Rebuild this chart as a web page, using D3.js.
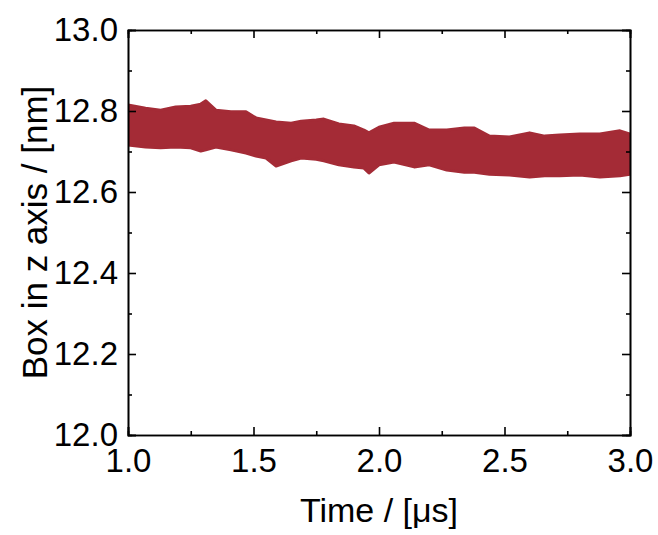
<!DOCTYPE html>
<html>
<head>
<meta charset="utf-8">
<script src="https://cdn.jsdelivr.net/npm/d3@7"></script>
<style>
body { margin: 0; background: #fff; }
text { font-family: Arial, "Liberation Sans", sans-serif; fill: #000; }
</style>
</head>
<body>
<script>
// band envelope (time in µs, box length in nm)
var time  = [1.00, 1.07, 1.13, 1.19, 1.25, 1.29, 1.31, 1.35, 1.41, 1.47, 1.51, 1.55, 1.59, 1.65, 1.69, 1.75, 1.78, 1.84, 1.90, 1.94, 1.96, 2.00, 2.06, 2.14, 2.20, 2.27, 2.34, 2.38, 2.44, 2.52, 2.60, 2.66, 2.72, 2.80, 2.88, 2.96, 3.00];
var upper = [12.815, 12.807, 12.802, 12.810, 12.812, 12.817, 12.825, 12.802, 12.798, 12.798, 12.783, 12.778, 12.773, 12.770, 12.775, 12.778, 12.780, 12.768, 12.763, 12.753, 12.746, 12.760, 12.770, 12.770, 12.753, 12.753, 12.758, 12.758, 12.738, 12.736, 12.746, 12.738, 12.741, 12.743, 12.743, 12.751, 12.743];
var lower = [12.716, 12.711, 12.709, 12.711, 12.709, 12.701, 12.704, 12.711, 12.704, 12.696, 12.689, 12.684, 12.664, 12.677, 12.684, 12.681, 12.677, 12.667, 12.662, 12.659, 12.647, 12.667, 12.674, 12.662, 12.667, 12.654, 12.649, 12.649, 12.644, 12.642, 12.637, 12.640, 12.640, 12.642, 12.637, 12.640, 12.644];
var xTicks = [1.0, 1.5, 2.0, 2.5, 3.0];
var xMinor = [1.25, 1.75, 2.25, 2.75];
var yTicks = [12.0, 12.2, 12.4, 12.6, 12.8, 13.0];
var yMinor = [12.1, 12.3, 12.5, 12.7, 12.9];

var margin = {top: 30, right: 28, bottom: 100, left: 128},
    w = 658 - margin.left - margin.right,
    h = 535 - margin.top - margin.bottom;

var svg = d3.select("body").append("svg").attr("width", 658).attr("height", 535);
var g = svg.append("g").attr("transform", `translate(${margin.left},${margin.top})`);

var x = d3.scaleLinear().domain([1, 3]).range([0, w]);
var y = d3.scaleLinear().domain([12, 13]).range([h, 0]);

var data = time.map(function(t, i){ return {t: t, hi: upper[i], lo: lower[i]}; });

g.append("clipPath").attr("id", "clip").append("rect").attr("width", w).attr("height", h);

var area = d3.area()
  .x(function(d){ return x(d.t); })
  .y0(function(d){ return y(d.lo); })
  .y1(function(d){ return y(d.hi); })
  .curve(d3.curveLinear);

g.append("path").datum(data)
  .attr("clip-path", "url(#clip)")
  .attr("d", area)
  .attr("fill", "#a42b36")
  .attr("stroke", "#a42b36")
  .attr("stroke-width", 3)
  .attr("stroke-linejoin", "round");

// axes with inward ticks, minor ones in between
var axBottom = g.append("g").attr("transform", `translate(0,${h})`)
  .call(d3.axisBottom(x).tickValues(xTicks).tickSize(-8).tickPadding(14).tickFormat(d3.format(".1f")));
axBottom.append("g").call(d3.axisBottom(x).tickValues(xMinor).tickSize(-4).tickFormat(""));
var axTop = g.append("g")
  .call(d3.axisTop(x).tickValues(xTicks).tickSize(-8).tickFormat(""));
axTop.append("g").call(d3.axisTop(x).tickValues(xMinor).tickSize(-4).tickFormat(""));

var axLeft = g.append("g")
  .call(d3.axisLeft(y).tickValues(yTicks).tickSize(-8).tickPadding(10).tickFormat(d3.format(".1f")));
axLeft.append("g").call(d3.axisLeft(y).tickValues(yMinor).tickSize(-4).tickFormat(""));
var axRight = g.append("g").attr("transform", `translate(${w},0)`)
  .call(d3.axisRight(y).tickValues(yTicks).tickSize(-8).tickFormat(""));
axRight.append("g").call(d3.axisRight(y).tickValues(yMinor).tickSize(-4).tickFormat(""));

g.selectAll(".domain").attr("stroke", "#000").attr("stroke-width", 1.6);
g.selectAll(".tick line").attr("stroke", "#000").attr("stroke-width", 1.6);
g.selectAll(".tick text").attr("font-size", 33).attr("font-family", "Arial, 'Liberation Sans', sans-serif").attr("fill", "#000");

// axis labels
svg.append("text").text("Time / [μs]")
  .attr("x", margin.left + w / 2).attr("y", 522)
  .attr("text-anchor", "middle").attr("font-size", 34);

svg.append("text").text("Box in z axis / [nm]")
  .attr("transform", `translate(47, ${margin.top + h / 2}) rotate(-90)`)
  .attr("text-anchor", "middle").attr("font-size", 35);
</script>
</body>
</html>
